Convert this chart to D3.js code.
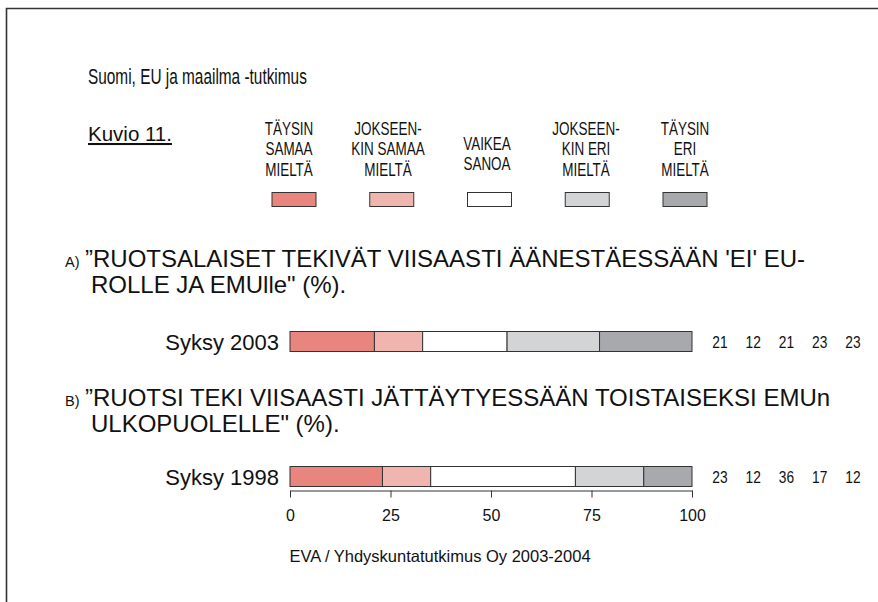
<!DOCTYPE html>
<html>
<head>
<meta charset="utf-8">
<script src="https://cdn.jsdelivr.net/npm/d3@7"></script>
<style>
  body { margin: 0; background: #fff; }
  svg text { fill: #111; font-family: "Liberation Sans", Arial, sans-serif; }
</style>
</head>
<body>
<div id="chart"></div>
<script>
// answer categories (legend), one line per array item
const categories = [
    ["TÄYSIN", "SAMAA", "MIELTÄ"],
    ["JOKSEEN-", "KIN SAMAA", "MIELTÄ"],
    ["VAIKEA", "SANOA"],
    ["JOKSEEN-", "KIN ERI", "MIELTÄ"],
    ["TÄYSIN", "ERI", "MIELTÄ"]
];
const categoryColors = ["#e8857e", "#efb5ae", "#ffffff", "#d3d4d6", "#a8a9ac"];

const questionA = ["”RUOTSALAISET TEKIVÄT VIISAASTI ÄÄNESTÄESSÄÄN 'EI' EU-", "ROLLE JA EMUlle\" (%)."];
const questionB = ["”RUOTSI TEKI VIISAASTI JÄTTÄYTYESSÄÄN TOISTAISEKSI EMUn", "ULKOPUOLELLE\" (%)."];

const periodA = "Syksy 2003";
const periodB = "Syksy 1998";
const valuesA = [21, 12, 21, 23, 23];
const valuesB = [23, 12, 36, 17, 12];

const xTicks = [0, 25, 50, 75, 100];

const title = "Suomi, EU ja maailma -tutkimus";
const figLabel = "Kuvio 11.";
const source = "EVA / Yhdyskuntatutkimus Oy 2003-2004";

const width = 878, height = 602;

const svg = d3.select("#chart")
    .append("svg")
    .attr("width", width)
    .attr("height", height);

// no narrow font installed, so squeeze text horizontally
function narrowText(parent, x, y, sx) {
    return parent.append("text")
        .attr("transform", `translate(${x}, ${y}) scale(${sx}, 1)`);
}

// frame: only top and left edges are visible
svg.append("path")
    .attr("d", `M6.5,${height} V8.5 H${width}`)
    .attr("fill", "none")
    .attr("stroke", "#333")
    .attr("stroke-width", 1.6);

narrowText(svg, 88, 84, 0.7)
    .style("font-size", "22px")
    .text(title);

svg.append("text")
    .attr("x", 88).attr("y", 141)
    .style("font-size", "20.5px")
    .style("text-decoration", "underline")
    .text(figLabel);

// legend
const swatchX = d3.scalePoint()
    .domain(d3.range(categories.length))
    .range([294, 685]);
const labelX = d3.scalePoint()
    .domain(d3.range(categories.length))
    .range([289, 685]);

const legend = svg.selectAll(".legend-item")
    .data(categories)
    .enter()
    .append("g")
    .attr("class", "legend-item");

legend.append("text")
    .attr("transform", (d, i) => `translate(${labelX(i)}, 0) scale(0.71, 1)`)
    .attr("text-anchor", "middle")
    .style("font-size", "19px")
    .selectAll("tspan")
    .data(d => d.map(line => ({ line, n: d.length })))
    .enter()
    .append("tspan")
    .attr("x", 0)
    .attr("y", (d, j) => (d.n === 3 ? 135 : 150) + j * 20.5)
    .text(d => d.line);

legend.append("rect")
    .attr("x", (d, i) => swatchX(i) - 22).attr("y", 192.5)
    .attr("width", 44).attr("height", 14)
    .attr("fill", (d, i) => categoryColors[i])
    .attr("stroke", "#333")
    .attr("stroke-width", 1);

// bars
const x = d3.scaleLinear()
    .domain([0, 100])
    .range([290, 692]);

function drawQuestion(letter, lines, topY, period, values, barY) {
    svg.append("text")
        .attr("x", 65).attr("y", topY)
        .style("font-size", "14.5px")
        .text(letter + ")");

    svg.append("text")
        .style("font-size", "24px")
        .selectAll("tspan")
        .data(lines)
        .enter()
        .append("tspan")
        .attr("x", (d, i) => i === 0 ? 85 : 91)
        .attr("y", (d, i) => topY + i * 26)
        .text(d => d);

    const ends = d3.cumsum(values);
    const segs = values.map((v, i) => ({ start: ends[i] - v, end: ends[i], i }));

    svg.append("text")
        .attr("x", 279).attr("y", barY + 18)
        .attr("text-anchor", "end")
        .style("font-size", "22px")
        .text(period);

    svg.append("g")
        .selectAll("rect")
        .data(segs)
        .enter()
        .append("rect")
        .attr("x", d => x(d.start))
        .attr("y", barY)
        .attr("width", d => x(d.end) - x(d.start))
        .attr("height", 20)
        .attr("fill", d => categoryColors[d.i])
        .attr("stroke", "#333")
        .attr("stroke-width", 1);

    const valG = svg.append("g");
    values.forEach((v, i) => {
        narrowText(valG, 720 + i * 33.25, barY + 16, 0.86)
            .attr("text-anchor", "middle")
            .style("font-size", "16px")
            .text(v);
    });
}

drawQuestion("A", questionA, 267, periodA, valuesA, 331.5);
drawQuestion("B", questionB, 406, periodB, valuesB, 466.5);

const xAxis = d3.axisBottom(x)
    .tickValues(xTicks)
    .tickSize(7)
    .tickSizeOuter(0)
    .tickPadding(12);

const axisG = svg.append("g")
    .attr("transform", "translate(0, 490.5)")
    .call(xAxis);

axisG.select(".domain").attr("stroke", "#333");
axisG.selectAll(".tick line").attr("stroke", "#333");
axisG.selectAll(".tick text")
    .style("font-size", "16px")
    .style("font-family", "'Liberation Sans', Arial, sans-serif")
    .attr("fill", "#111");

svg.append("text")
    .attr("x", 440).attr("y", 562)
    .attr("text-anchor", "middle")
    .style("font-size", "16.5px")
    .text(source);
</script>
</body>
</html>
